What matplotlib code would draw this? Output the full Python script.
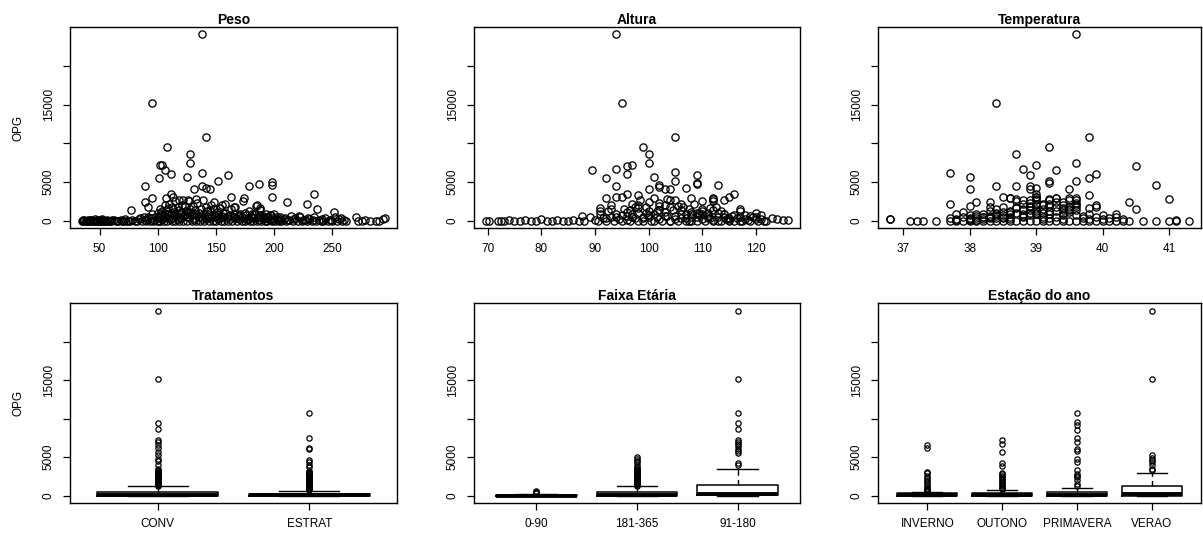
import matplotlib.pyplot as plt

plt.rcParams['font.family'] = ['Liberation Sans', 'DejaVu Sans']

# ---------------- dados ----------------

# Peso x OPG
peso_x = [35, 36, 37, 38, 39, 40, 41, 42, 43, 44, 45, 46, 47, 48, 49, 50,
          51, 52, 53, 55, 56, 58, 60, 62, 64, 66, 68, 70, 72, 74, 76, 78,
          80, 82, 84, 85, 86, 88, 89, 90, 91, 92, 93, 94, 95, 96, 97, 98,
          99, 100, 101, 102, 102, 103, 104, 104, 105, 106, 107, 108, 108, 109, 110, 110,
          111, 112, 112, 113, 114, 115, 115, 116, 117, 118, 118, 119, 120, 121, 122, 123,
          124, 125, 126, 127, 128, 129, 130, 131, 132, 133, 134, 135, 136, 137, 138, 139,
          140, 141, 142, 143, 144, 145, 146, 147, 148, 149, 150, 151, 152, 153, 154, 155,
          156, 157, 158, 159, 160, 162, 163, 164, 165, 166, 168, 169, 170, 171, 172, 173,
          174, 175, 176, 177, 178, 179, 180, 181, 182, 183, 184, 185, 186, 187, 188, 189,
          190, 191, 192, 193, 194, 195, 196, 197, 198, 199, 200, 201, 202, 203, 204, 205,
          206, 208, 210, 212, 214, 216, 218, 220, 222, 224, 226, 228, 230, 232, 234, 236,
          238, 240, 242, 244, 246, 248, 250, 252, 254, 256, 258, 260, 262, 270, 272, 275,
          278, 282, 287, 290, 293, 295,
          138, 95, 141, 108, 128, 128, 102, 104, 106, 111, 138, 160, 125, 101, 152, 198,
          198, 89, 138, 178, 187, 141, 145, 131, 234, 111, 95, 107, 163, 174, 198, 89,
          211, 228, 92, 77, 237, 251, 113, 118, 122, 127, 133, 148, 155, 165, 185, 188]
peso_opg = [0, 0, 50, 0, 0, 100, 0, 0, 50, 0, 0, 150, 0, 0, 0, 100,
            0, 200, 0, 0, 100, 0, 0, 50, 0, 0, 100, 0, 200, 0, 0, 100,
            0, 0, 150, 300, 0, 400, 100, 0, 200, 500, 0, 300, 800, 0, 100, 400,
            0, 1000, 300, 1500, 0, 700, 200, 1200, 0, 2000, 500, 900, 0, 1600, 300, 2200,
            800, 0, 1800, 400, 1100, 0, 2500, 600, 200, 1400, 0, 900, 300, 2000, 0, 700,
            1200, 0, 2600, 400, 1000, 0, 1900, 300, 800, 0, 2300, 500, 0, 1500, 200, 2700,
            0, 1700, 600, 300, 0, 1300, 2000, 0, 900, 400, 0, 1100, 200, 1600, 0, 600,
            1000, 0, 2200, 300, 0, 700, 1500, 0, 400, 1800, 0, 600, 200, 900, 0, 2500,
            300, 0, 700, 100, 1200, 0, 400, 800, 0, 300, 1900, 0, 500, 100, 1300, 0,
            600, 200, 0, 900, 0, 400, 100, 700, 0, 300, 900, 0, 200, 100, 0, 500,
            0, 200, 0, 100, 600, 0, 300, 0, 500, 0, 100, 0, 200, 0, 400, 0,
            100, 0, 0, 300, 0, 100, 0, 400, 0, 200, 0, 100, 0, 400, 0, 0,
            100, 0, 0, 0, 200, 300,
            24060, 15200, 10750, 9450, 8600, 7500, 7200, 7150, 6600, 6050, 6200, 5900, 5600, 5450, 5100, 5000,
            4600, 4500, 4500, 4500, 4700, 4200, 4050, 4100, 3400, 3450, 2900, 2900, 3000, 2900, 3100, 2400,
            2400, 2100, 1700, 1300, 1450, 1050, 3000, 2700, 2600, 2500, 2800, 2400, 2000, 1800, 2000, 1600]
peso_x2 = [36, 38, 40, 42, 44, 46, 48, 50, 52, 54, 56, 59, 61, 65, 69, 73,
           100, 101, 103, 105, 106, 107, 109, 111, 113, 114, 116, 117, 119, 120, 122, 123,
           125, 126, 128, 129, 131, 132, 134, 135, 137, 139, 141, 142, 144, 146, 148, 150,
           152, 154, 156, 158, 160, 162, 165, 167, 170, 172, 175, 178, 180, 183, 185, 188,
           190, 193, 196, 199, 202, 205, 209, 213, 217, 221, 225, 229, 233, 241, 249, 257]
peso_opg2 = [100, 0, 0, 100, 0, 0, 50, 0, 100, 0, 0, 0, 100, 0, 0, 0,
             400, 0, 1000, 600, 300, 1300, 900, 200, 1500, 700, 1000, 1700, 300, 1100, 600, 1900,
             500, 1100, 1500, 800, 100, 1300, 700, 1000, 400, 900, 200, 1200, 700, 300, 1500, 600,
             900, 300, 500, 1000, 600, 200, 900, 300, 700, 400, 1000, 200, 600, 900, 300, 700,
             300, 500, 700, 100, 400, 200, 300, 100, 200, 600, 100, 300, 100, 200, 100, 300]

# Altura x OPG
altura_x = [69.7, 70.2, 72, 72.5, 73, 74, 75, 76, 77, 78, 79, 80, 81, 82, 83, 84,
            85, 86, 87, 87.5, 88, 89, 90, 90.5, 91, 91.5, 92, 92.5, 93, 93.5, 94, 94.5,
            95, 95.5, 96, 96.5, 97, 97.5, 98, 98.5, 99, 99.5, 100, 100.5, 101, 101.5, 102, 102.5,
            103, 103.5, 104, 104.5, 105, 105.5, 106, 106.5, 107, 107.5, 108, 108.5, 109, 109.5, 110, 110.5,
            111, 111.5, 112, 112.5, 113, 113.5, 114, 114.5, 115, 115.5, 116, 116.5, 117, 117.5, 118, 118.5,
            119, 119.5, 120, 120.5, 121, 121.5, 122, 96, 98, 100, 102, 104, 106, 108, 110, 112,
            97, 99, 101, 103, 105, 107, 109, 111, 113, 115, 117, 121, 123, 124, 125, 126,
            94, 95, 105, 99, 100, 100, 96, 97, 96, 89.5, 94, 105, 109, 109, 109, 105,
            92, 101, 102, 102, 94, 113, 100, 103, 104, 107, 116, 115, 114, 108, 94, 95,
            96, 98, 92, 110, 112, 112, 93, 91, 91, 117, 120]
altura_opg = [0, 0, 0, 0, 0, 100, 0, 0, 100, 0, 0, 200, 0, 0, 100, 0,
              0, 100, 0, 560, 0, 430, 100, 0, 800, 300, 0, 1200, 500, 0, 900, 200,
              0, 1500, 600, 0, 2200, 300, 1000, 2600, 0, 1800, 700, 0, 2900, 400, 1300, 0,
              2000, 600, 0, 1400, 2700, 0, 900, 1700, 300, 0, 1100, 2100, 0, 700, 1500, 0,
              1000, 300, 0, 1800, 500, 0, 800, 200, 0, 600, 0, 300, 1200, 0, 700, 100,
              0, 400, 200, 0, 700, 0, 0, 100, 0, 400, 200, 0, 300, 0, 200, 100,
              500, 300, 0, 600, 200, 0, 400, 300, 0, 100, 0, 200, 300, 250, 130, 90,
              24060, 15200, 10750, 9450, 8600, 7500, 7100, 7200, 6050, 6600, 6700, 6250, 5900, 4900, 4700, 5100,
              5500, 5600, 4550, 4400, 4500, 4650, 4100, 4100, 4100, 4200, 3400, 3100, 2650, 2950, 3100, 3000,
              3450, 3300, 2900, 2500, 2950, 2500, 2000, 1650, 1200, 1550, 1000]
altura_x2 = [92, 93, 94, 95, 96, 97, 98, 99, 100, 101, 102, 103, 104, 105, 106, 107,
             108, 109, 110, 111, 112, 113, 114, 115, 116, 117, 118, 119, 120, 98, 100, 102,
             104, 106, 108, 110, 112, 114, 96.5, 97.5, 99.5, 101.5, 103.5, 105.5, 107.5, 109.5,
             111.5, 113.5]
altura_opg2 = [300, 1500, 400, 700, 1100, 800, 1600, 500, 1200, 900, 2300, 1100, 1800, 600, 1300, 800,
               400, 1000, 900, 600, 1300, 1000, 500, 300, 700, 400, 200, 600, 400, 2000, 2400, 1900,
               2600, 2200, 900, 1200, 2800, 800, 1300, 1700, 1000, 1200, 2800, 1900, 1500, 1000,
               1600, 1200]

# Temperatura x OPG
temp_x = [36.8, 36.8, 37.1, 37.2, 37.3, 37.5, 37.7, 37.7, 37.8, 37.8, 37.9, 37.9, 38.0, 38.0, 38.1, 38.1,
          38.2, 38.2, 38.3, 38.3, 38.3, 38.4, 38.4, 38.5, 38.5, 38.5, 38.6, 38.6, 38.7, 38.7, 38.7, 38.8,
          38.8, 38.8, 38.9, 38.9, 38.9, 39.0, 39.0, 39.0, 39.0, 39.1, 39.1, 39.1, 39.2, 39.2, 39.2, 39.3,
          39.3, 39.3, 39.4, 39.4, 39.4, 39.5, 39.5, 39.5, 39.6, 39.6, 39.6, 39.7, 39.7, 39.8, 39.8, 39.8,
          39.9, 39.9, 40.0, 40.0, 40.1, 40.2, 40.2, 40.3, 40.4, 40.6, 40.8, 41.0, 41.1, 41.1, 41.3, 38.1,
          38.0, 38.2, 38.4, 38.6, 38.8, 39.0, 39.2, 39.4, 39.6, 38.1, 38.3, 38.5, 38.7, 38.9, 39.1, 39.3,
          39.5, 38.6, 38.8, 39.0, 39.2, 39.4, 38.9, 39.0, 39.6, 39.6,
          39.6, 38.4, 39.8, 39.2, 38.7, 39.6, 40.5, 39.0, 38.8, 39.3, 37.7, 39.9, 38.9, 38.0, 39.8, 39.6,
          39.2, 39.2, 40.8, 38.4, 38.7, 38.9, 38.9, 39.0, 39.5, 38.0, 39.8, 38.5, 38.6, 39.3, 39.5, 41.0,
          37.7, 38.0, 38.1, 38.3, 40.4, 40.5, 39.9, 39.9, 37.9, 37.8, 40.0, 40.2]
temp_opg = [200, 250, 0, 0, 0, 0, 0, 300, 0, 100, 0, 400, 0, 200, 600, 0,
            0, 900, 0, 1200, 300, 0, 1500, 0, 700, 1800, 0, 400, 1000, 0, 2500, 0,
            2200, 600, 0, 1300, 2600, 0, 800, 2000, 3400, 0, 1500, 500, 0, 1900, 900, 0,
            1200, 2400, 0, 700, 1600, 0, 1100, 2600, 0, 1300, 2300, 0, 300, 0, 800, 1600,
            0, 400, 0, 200, 0, 0, 500, 0, 0, 0, 0, 0, 0, 50, 0, 900,
            300, 200, 600, 200, 400, 1200, 300, 200, 700, 100, 500, 300, 1800, 700, 200, 500,
            1500, 1200, 1500, 2800, 2100, 1300, 2300, 3000, 2000, 2900,
            24060, 15200, 10750, 9450, 8600, 7500, 7100, 7200, 6700, 6600, 6200, 6050, 5900, 5600, 5500, 5100,
            5100, 4900, 4600, 4500, 4500, 4500, 4100, 4200, 4050, 4050, 3300, 3050, 2950, 2950, 2950, 2850,
            2100, 1900, 2450, 2450, 2400, 1550, 2000, 1800, 1050, 800, 750, 800]
temp_x2 = [38.0, 38.1, 38.2, 38.3, 38.4, 38.5, 38.6, 38.7, 38.8, 38.9, 39.0, 39.1, 39.2, 39.3, 39.4, 39.5,
           39.6, 39.7, 39.8, 38.3, 38.5, 38.7, 38.9, 39.1, 39.3, 39.5, 38.4, 38.6, 38.8, 39.0, 39.2, 39.4,
           38.2, 38.4, 38.6, 38.8, 39.0, 39.2, 39.4, 39.6, 39.0, 39.0, 38.9, 39.1, 37.8, 38.0, 40.1, 40.3]
temp_opg2 = [700, 300, 500, 600, 800, 400, 1100, 1600, 1300, 1900, 2600, 1000, 2600, 1700, 2000, 1800,
             1700, 600, 200, 1700, 1100, 2800, 1000, 2000, 2900, 1300, 1000, 2900, 2600, 1500, 2800, 2400,
             400, 300, 800, 900, 3000, 1200, 1000, 2600, 2200, 1000, 1700, 2100, 200, 100, 300, 200]

# Boxplots: estatísticas lidas (q1, mediana, q3, bigodes) e pontos atípicos
trat_nomes = ['CONV', 'ESTRAT']
trat_q1 = [0, 0]
trat_med = [100, 50]
trat_q3 = [500, 270]
trat_wlo = [0, 0]
trat_whi = [1210, 620]
trat_out = [
    [1300, 1400, 1500, 1600, 1700, 1800, 1900, 2000, 2100, 2200, 2300, 2400, 2500, 2600,
     2700, 2800, 2900, 3000, 3100, 3200, 3300, 3400, 4000, 4500, 4800, 5300, 5600, 6200,
     6600, 6900, 7200, 8600, 9400, 15200, 24000],
    [700, 800, 900, 1000, 1100, 1200, 1300, 1400, 1500, 1600, 1700, 1800, 1900, 2000, 2100,
     2200, 2300, 2400, 2500, 2600, 2700, 2800, 2900, 3000, 3100, 3200, 3700, 4000, 4300,
     4600, 6100, 6200, 7500, 10700],
]

faixa_nomes = ['0-90', '181-365', '91-180']
faixa_q1 = [0, 0, 50]
faixa_med = [0, 100, 260]
faixa_q3 = [100, 500, 1400]
faixa_wlo = [0, 0, 0]
faixa_whi = [200, 1210, 3415]
faixa_out = [
    [300, 400, 500, 600],
    [1300, 1400, 1500, 1600, 1700, 1800, 1900, 2000, 2100, 2200, 2300, 2400, 2500, 2600,
     2700, 2800, 2900, 3000, 3100, 3200, 3300, 3400, 3500, 3700, 4000, 4300, 4500, 4700, 5000],
    [4000, 4200, 5500, 5800, 6100, 6400, 6700, 7000, 7200, 8600, 9400, 10700, 15200, 24000],
]

estacao_nomes = ['INVERNO', 'OUTONO', 'PRIMAVERA', 'VERAO']
estacao_q1 = [0, 0, 0, 0]
estacao_med = [50, 50, 80, 200]
estacao_q3 = [300, 350, 450, 1300]
estacao_wlo = [0, 0, 0, 0]
estacao_whi = [520, 690, 1040, 2980]
estacao_out = [
    [650, 750, 850, 950, 1200, 1500, 1800, 2000, 2300, 2600, 2900, 3100, 6200, 6600],
    [800, 900, 1000, 1200, 1400, 1600, 1800, 2000, 2200, 2400, 2600, 2800, 3000, 3900,
     4200, 5600, 6700, 7200],
    [1200, 1500, 2000, 2400, 2600, 2800, 3300, 4400, 4700, 5800, 6000, 6900, 7500, 8500,
     9200, 9500, 10700],
    [3300, 3400, 4000, 4300, 4600, 4900, 5300, 15200, 24000],
]

# ---------------- figura ----------------
W, H = 1203, 536
fig = plt.figure(figsize=(W / 100, H / 100), dpi=100)

colunas = [(70, 397), (474, 800), (878, 1201)]
linhas = [(27, 228), (303, 503)]


def novo_eixo(col, lin):
    x0, x1 = colunas[col]
    y0, y1 = linhas[lin]
    ax = fig.add_axes([x0 / W, 1 - y1 / H, (x1 - x0) / W, (y1 - y0) / H])
    for s in ax.spines.values():
        s.set_linewidth(1.0)
    ax.tick_params(length=5, width=0.9, pad=6, labelsize=8.5)
    ax.set_yticks([0, 5000, 10000, 15000, 20000])
    ax.set_yticklabels(['0', '5000', '', '15000', ''], rotation=90, va='center')
    ymax = 24060
    ax.set_ylim(-0.04 * ymax, ymax * 1.04)
    return ax


def limites(v):
    lo, hi = min(v), max(v)
    pad = 0.04 * (hi - lo)
    return lo - pad, hi + pad


dispersao = [
    ('Peso', peso_x + peso_x2, peso_opg + peso_opg2, [50, 100, 150, 200, 250]),
    ('Altura', altura_x + altura_x2, altura_opg + altura_opg2, [70, 80, 90, 100, 110, 120]),
    ('Temperatura', temp_x + temp_x2, temp_opg + temp_opg2, [37, 38, 39, 40, 41]),
]
for i, (titulo, xs, ys, ticks) in enumerate(dispersao):
    ax = novo_eixo(i, 0)
    ax.plot(xs, ys, 'o', ls='none', mfc='none', mec='black', ms=5.2, mew=0.95)
    ax.set_xlim(*limites(xs))
    ax.set_xticks(ticks)
    ax.set_title(titulo, fontsize=10, fontweight='bold', pad=2)
    if i == 0:
        ax.set_ylabel('OPG', fontsize=8.5, labelpad=13)

caixas = [
    ('Tratamentos', trat_nomes, trat_q1, trat_med, trat_q3, trat_wlo, trat_whi, trat_out),
    ('Faixa Etária', faixa_nomes, faixa_q1, faixa_med, faixa_q3, faixa_wlo, faixa_whi, faixa_out),
    ('Estação do ano', estacao_nomes, estacao_q1, estacao_med, estacao_q3, estacao_wlo,
     estacao_whi, estacao_out),
]
for i, (titulo, nomes, q1, med, q3, wlo, whi, out) in enumerate(caixas):
    ax = novo_eixo(i, 1)
    stats = []
    for k in range(len(nomes)):
        stats.append({'label': nomes[k], 'q1': q1[k], 'med': med[k], 'q3': q3[k],
                      'whislo': wlo[k], 'whishi': whi[k], 'fliers': out[k]})
    n = len(nomes)
    pos = list(range(1, n + 1))
    ax.bxp(stats, positions=pos, widths=0.8, capwidths=0.4, showfliers=True,
           boxprops=dict(color='black', linewidth=1.1),
           medianprops=dict(color='black', linewidth=2.8),
           whiskerprops=dict(color='black', linewidth=1.0, linestyle=(0, (4, 3))),
           capprops=dict(color='black', linewidth=1.0),
           flierprops=dict(marker='o', mfc='none', mec='black', ms=3.8, mew=0.9))
    ax.set_xlim(0.5 - 0.04 * n, n + 0.5 + 0.04 * n)
    ax.set_xticks(pos)
    ax.set_xticklabels(nomes)
    ax.set_title(titulo, fontsize=10, fontweight='bold', pad=2)
    if i == 0:
        ax.set_ylabel('OPG', fontsize=8.5, labelpad=13)

fig.savefig('out.png', dpi=100)
